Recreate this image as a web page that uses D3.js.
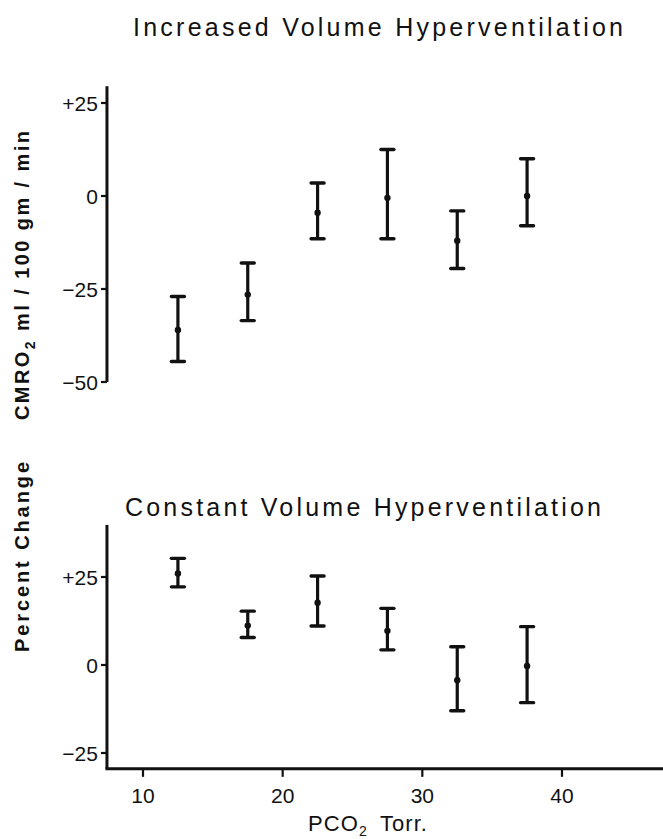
<!DOCTYPE html>
<html>
<head>
<meta charset="utf-8">
<script src="https://cdn.jsdelivr.net/npm/d3@7"></script>
<style>
  body { margin: 0; background: #fff; }
  svg { display: block; }
  text { font-family: "Liberation Sans", Arial, sans-serif; fill: #111; }
</style>
</head>
<body>
<div id="chart"></div>
<script>
// PCO2 (Torr) at which each group was measured
const pco2 = [12.5, 17.5, 22.5, 27.5, 32.5, 37.5];

// Increased volume hyperventilation: mean and error bar ends (% change)
const incMean = [-36, -26.5, -4.5, -0.5, -12, 0];
const incLow  = [-44.5, -33.5, -11.5, -11.5, -19.5, -8];
const incHigh = [-27, -18, 3.5, 12.5, -4, 10];

// Constant volume hyperventilation
const conMean = [26, 11.2, 17.7, 9.7, -4.3, -0.3];
const conLow  = [22.2, 7.8, 11.1, 4.3, -13, -10.7];
const conHigh = [30.3, 15.3, 25.3, 16.1, 5.2, 10.9];

const xTicks = [10, 20, 30, 40];
const incTicks = [25, 0, -25, -50];
const conTicks = [25, 0, -25];

const width = 663, height = 839;
const ink = "#111";

const svg = d3.select("#chart").append("svg")
    .attr("width", width).attr("height", height);

const x = d3.scaleLinear().domain([10, 40]).range([143, 562]);
const yInc = d3.scaleLinear().domain([-50, 25]).range([382, 103]);
const yCon = d3.scaleLinear().domain([-25, 25]).range([753, 577]);
const xStart = 7.42;

const fmt = v => v > 0 ? "+" + v : (v < 0 ? "\u2212" + Math.abs(v) : "0");

// stretch a text to a given length with letter spacing (keeps tspans intact)
function fitWidth(sel, target) {
    const node = sel.node();
    const n = node.textContent.length;
    const len = node.getComputedTextLength();
    sel.style("letter-spacing", ((target - len) / (n - 1)) + "px");
}

function yAxis(g, y, ticks, yTop, yBottom) {
    g.append("line")
        .attr("x1", x(xStart)).attr("x2", x(xStart))
        .attr("y1", y(yTop)).attr("y2", y(yBottom))
        .attr("stroke", ink).attr("stroke-width", 3);
    const t = g.selectAll(".tick").data(ticks).join("g")
        .attr("transform", d => `translate(${x(xStart)},${y(d)})`);
    t.append("line").attr("x1", -6).attr("x2", 0)
        .attr("stroke", ink).attr("stroke-width", 2.2);
    t.append("text").attr("x", -9).attr("dy", "0.36em")
        .attr("text-anchor", "end").style("font-size", "21px")
        .text(fmt);
}

function errorBars(g, y, mean, low, high) {
    const pts = pco2.map((p, i) => ({ p, m: mean[i], lo: low[i], hi: high[i] }));
    const e = g.selectAll(".err").data(pts).join("g");
    e.append("line")
        .attr("x1", d => x(d.p)).attr("x2", d => x(d.p))
        .attr("y1", d => y(d.lo)).attr("y2", d => y(d.hi))
        .attr("stroke", ink).attr("stroke-width", 3.2);
    ["lo", "hi"].forEach(k => {
        e.append("line")
            .attr("x1", d => x(d.p) - 6.5).attr("x2", d => x(d.p) + 6.5)
            .attr("y1", d => y(d[k])).attr("y2", d => y(d[k]))
            .attr("stroke", ink).attr("stroke-width", 3.4)
            .attr("stroke-linecap", "round");
    });
    e.append("circle")
        .attr("cx", d => x(d.p)).attr("cy", d => y(d.m))
        .attr("r", 3.2).attr("fill", ink);
}

// top panel
const topPanel = svg.append("g");
yAxis(topPanel, yInc, incTicks, 29.5, -50);
errorBars(topPanel, yInc, incMean, incLow, incHigh);
const t1 = svg.append("text").attr("x", 133).attr("y", 36)
    .style("font-size", "25px")
    .text("Increased Volume Hyperventilation");
fitWidth(t1, 490);

// bottom panel
const botPanel = svg.append("g");
yAxis(botPanel, yCon, conTicks, 39.8, -29.5);
errorBars(botPanel, yCon, conMean, conLow, conHigh);
const t2 = svg.append("text").attr("x", 125).attr("y", 516)
    .style("font-size", "25px")
    .text("Constant Volume Hyperventilation");
fitWidth(t2, 476);

// x axis
const xa = svg.append("g").attr("transform", `translate(0,${yCon(-29.5)})`);
xa.append("line").attr("x1", x(xStart) - 1.5).attr("x2", width)
    .attr("stroke", ink).attr("stroke-width", 3);
const xt = xa.selectAll(".tick").data(xTicks).join("g")
    .attr("transform", d => `translate(${x(d)},0)`);
xt.append("line").attr("y1", 0).attr("y2", 8).attr("stroke", ink).attr("stroke-width", 2.2);
xt.append("text").attr("y", 34).attr("text-anchor", "middle")
    .style("font-size", "21px").text(d => d);

const xl = svg.append("text").attr("x", 308).attr("y", 831).style("font-size", "22px");
xl.append("tspan").text("PCO");
xl.append("tspan").attr("dy", 5).style("font-size", "14px").text("2");
xl.append("tspan").attr("dy", -5).text("\u2002Torr.");
fitWidth(xl, 119);

// y axis label (rotated), reads bottom to top
const yl1 = svg.append("text")
    .attr("transform", "translate(29,652) rotate(-90)")
    .style("font-size", "20px").style("font-weight", "bold")
    .text("Percent Change");
fitWidth(yl1, 190);

const yl2 = svg.append("text")
    .attr("transform", "translate(29,420) rotate(-90)")
    .style("font-size", "20px").style("font-weight", "bold");
yl2.append("tspan").text("CMRO");
yl2.append("tspan").attr("dy", 6).style("font-size", "14px").text("2");
yl2.append("tspan").attr("dy", -6).text(" ml / 100 gm / min");
fitWidth(yl2, 289);
</script>
</body>
</html>
